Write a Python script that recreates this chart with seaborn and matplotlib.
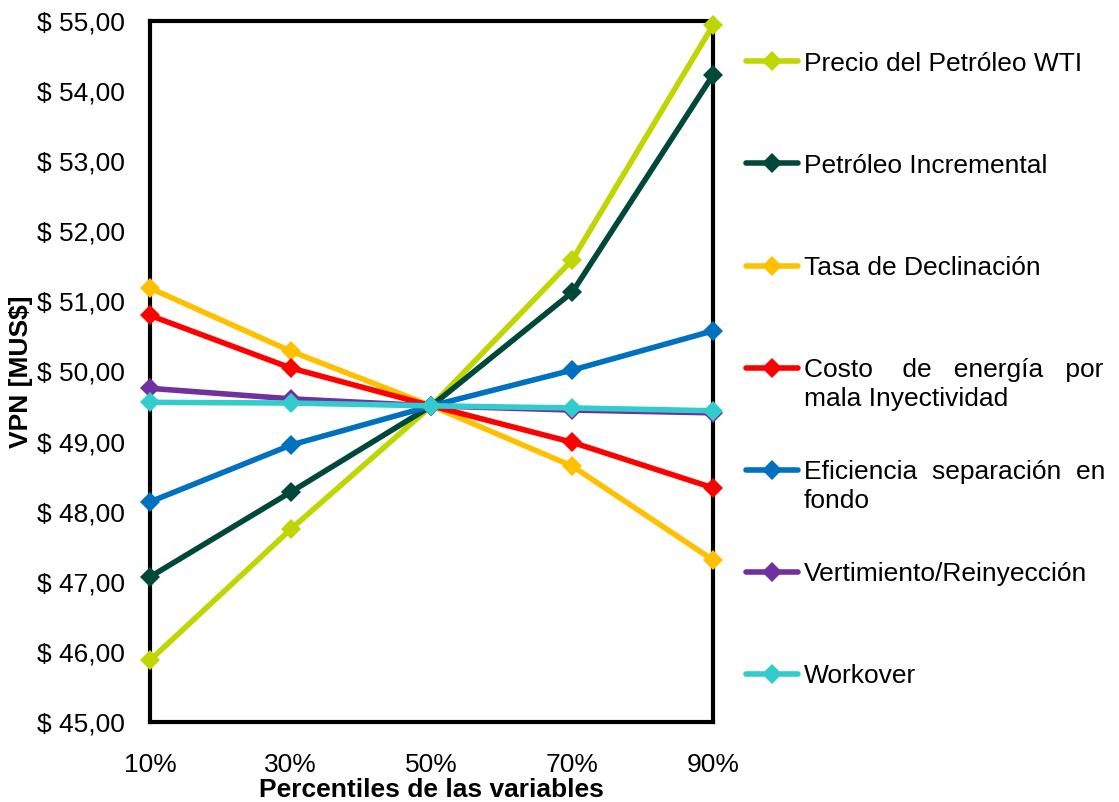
import numpy as np
import pandas as pd
import seaborn as sns
import matplotlib.pyplot as plt
from matplotlib.ticker import FuncFormatter

# percentiles de las variables (eje x)
percentiles = [10, 30, 50, 70, 90]
etiquetas_x = ["10%", "30%", "50%", "70%", "90%"]

# VPN [MUS$]
precio_wti = [45.88, 47.75, 49.51, 51.59, 54.94]
petroleo_inc = [47.07, 48.28, 49.51, 51.13, 54.23]
tasa_decl = [51.19, 50.29, 49.51, 48.65, 47.31]
costo_energia = [50.80, 50.05, 49.51, 48.99, 48.34]
eficiencia = [48.14, 48.95, 49.51, 50.02, 50.58]
vertimiento = [49.76, 49.61, 49.51, 49.45, 49.41]
workover = [49.56, 49.55, 49.51, 49.48, 49.44]

series = ["Precio del Petróleo WTI", "Petróleo Incremental", "Tasa de Declinación",
          "Costo de energía por mala Inyectividad", "Eficiencia separación en fondo",
          "Vertimiento/Reinyección", "Workover"]
valores = [precio_wti, petroleo_inc, tasa_decl, costo_energia, eficiencia, vertimiento, workover]
colores = ["#BFD600", "#00493A", "#FFC000", "#FF0000", "#0070C0", "#7030A0", "#33CCCC"]

# etiquetas de la leyenda (primera linea) y segunda linea aparte
leyenda_1 = ["Precio del Petróleo WTI", "Petróleo Incremental", "Tasa de Declinación",
             "Costo    de   energía   por", "Eficiencia  separación  en",
             "Vertimiento/Reinyección", "Workover"]
leyenda_2 = ["", "", "", "mala Inyectividad", "fondo", "", ""]

df = pd.DataFrame({
    "pct": np.tile(percentiles, len(series)),
    "vpn": np.concatenate(valores),
    "serie": np.repeat(series, len(percentiles)),
})

sns.set_style("white", {"text.color": "black", "axes.labelcolor": "black"})
plt.rcParams["font.family"] = ["Liberation Sans", "DejaVu Sans"]

fig = plt.figure(figsize=(11.19, 8.02), dpi=100)
ax = fig.add_axes([150 / 1119, 1 - 722 / 802, 563 / 1119, 701 / 802])

sns.lineplot(data=df, x="pct", y="vpn", hue="serie", hue_order=series,
             palette=colores, marker="D", markersize=10, markeredgewidth=0,
             linewidth=4, ax=ax, legend=False, clip_on=False, zorder=3)

ax.set_xlim(10, 90)
ax.set_ylim(45, 55)
ax.set_xticks(percentiles)
ax.set_xticklabels(etiquetas_x)
ax.set_yticks(np.arange(45, 56, 1))
ax.yaxis.set_major_formatter(FuncFormatter(lambda v, p: ("$ %.2f" % v).replace(".", ",")))

for s in ax.spines.values():
    s.set_color("black")
    s.set_linewidth(3)
    s.set_zorder(2)

ax.tick_params(axis="both", labelsize=19, colors="#808080", labelcolor="black",
               length=6, width=1.5, direction="out")
ax.tick_params(axis="x", pad=16)
ax.tick_params(axis="y", pad=12)

ax.set_xlabel("Percentiles de las variables", fontsize=19, fontweight="bold", va="top")
ax.set_ylabel("VPN [MUS$]", fontsize=19, fontweight="bold")
ax.xaxis.set_label_coords(0.5, -0.08)
ax.yaxis.set_label_coords(-0.207, 0.5)

handles = [plt.Line2D([], [], color=c, marker="D", markersize=10, markeredgewidth=0, linewidth=4)
           for c in colores]
leg = fig.legend(handles, leyenda_1, loc="upper left", bbox_to_anchor=(735 / 1119, 1 - 41 / 802),
                 frameon=False, fontsize=19, handlelength=1.97, handletextpad=0.23,
                 labelspacing=2.96, borderaxespad=0)

fig.canvas.draw()
inv = fig.transFigure.inverted()
for t, extra in zip(leg.get_texts(), leyenda_2):
    if extra:
        bb = t.get_window_extent()
        x0, y0 = inv.transform((bb.x0, bb.y0 - 5))
        fig.text(x0, y0, extra, fontsize=19, va="top", ha="left")

fig.savefig("out.png", dpi=100)
